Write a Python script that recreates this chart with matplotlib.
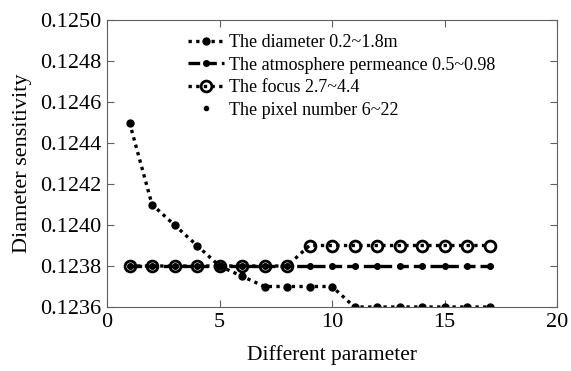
import matplotlib
matplotlib.use("Agg")
import matplotlib.pyplot as plt

plt.rcParams['font.family'] = ['Liberation Serif', 'DejaVu Serif']

x = list(range(1, 18))
diameter = [0.1245, 0.1241, 0.1240, 0.1239, 0.1238, 0.12375, 0.1237, 0.1237, 0.1237,
            0.1237, 0.1236, 0.1236, 0.1236, 0.1236, 0.1236, 0.1236, 0.1236]
atmosphere = [0.1238] * 17
focus = [0.1238] * 8 + [0.1239] * 9
pixel = [0.1238] * 17

labels = ["The diameter 0.2~1.8m", "The atmosphere permeance 0.5~0.98",
          "The focus 2.7~4.4", "The pixel number 6~22"]

fig = plt.figure(figsize=(5.71, 3.71), dpi=100)
L, R, T, B = 107, 557, 20, 307
ax = fig.add_axes([L/571, 1-B/371, (R-L)/571, (B-T)/371])

ax.plot(x, diameter, color='black', linewidth=2.4, dashes=(1, 1.3), marker='o',
        markersize=5, label=labels[0])
ax.plot(x, atmosphere, color='black', linewidth=2.4, dashes=(3.5, 1.5), marker='o',
        markersize=4, label=labels[1])
ax.plot(x, focus, color='black', linewidth=2.4, dashes=(1, 1.3, 1, 1.3), marker='o',
        markersize=7.8, markerfacecolor='none', markeredgewidth=2.0, label=labels[2])
ax.plot(x, pixel, linestyle='none', color='black', marker='o', markersize=3,
        label=labels[3])

ax.set_xlim(0, 20)
ax.set_ylim(0.1236, 0.1250)
ax.set_xticks([0, 5, 10, 15, 20])
ax.set_yticks([0.1236 + 0.0002 * i for i in range(8)])
ax.set_yticklabels([f"{0.1236 + 0.0002 * i:.4f}" for i in range(8)])
ax.tick_params(direction='in', top=True, right=True, labelsize=16, length=5,
               color='#606060', pad=4)
for s in ax.spines.values():
    s.set_color('#606060')

ax.set_xlabel("Different parameter", fontsize=15.5, labelpad=10)
ax.set_ylabel("Diameter sensitivity", fontsize=16, labelpad=6)

ax.legend(loc='upper left', bbox_to_anchor=(0.18, 0.95), frameon=False, fontsize=13,
          handlelength=2.0, handletextpad=0.25, labelspacing=0.3, borderaxespad=0,
          borderpad=0)

fig.savefig("out.png", dpi=100)
